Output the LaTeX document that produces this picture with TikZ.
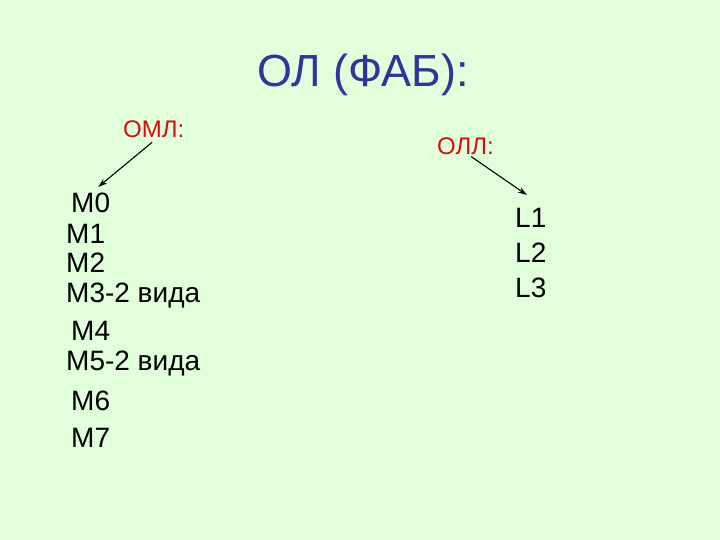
\documentclass[tikz,border=0pt]{standalone}
\usepackage{fontspec}
\setmainfont{Liberation Sans}
\usetikzlibrary{arrows.meta}
\definecolor{slidegreen}{RGB}{224,255,218}
\definecolor{titleblue}{RGB}{51,51,153}
\definecolor{headred}{RGB}{210,16,16}

\begin{document}
\begin{tikzpicture}[
  x = 1bp, y = -1bp,
  > = {Stealth[length=9bp, width=6bp]},
  item/.style = {anchor=base west, inner sep=0pt, font=\fontsize{28bp}{32bp}\selectfont},
  head/.style = {anchor=base west, inner sep=0pt, text=headred, font=\fontsize{24bp}{28bp}\selectfont},
  link arrow/.style = {->, line width=1.1pt}
]
  \fill[slidegreen] (0,0) rectangle (720,540);
  \useasboundingbox (0,0) rectangle (720,540);

  \node[anchor=base west, inner sep=0pt, text=titleblue, font=\fontsize{45bp}{50bp}\selectfont]
    (title) at (257,87) {ОЛ (ФАБ):};

  \node[head] (oml) at (123,138) {ОМЛ:};
  \node[head] (oll) at (437,155) {ОЛЛ:};

  \node[item] (m0) at (71,213) {M0};
  \node[item] (m1) at (66,244) {M1};
  \node[item] (m2) at (66,273) {M2};
  \node[item] (m3) at (66,302) {M3-2 вида};
  \node[item] (m4) at (71,340) {M4};
  \node[item] (m5) at (66,370) {M5-2 вида};
  \node[item] (m6) at (71,410) {M6};
  \node[item] (m7) at (71,447) {M7};

  \node[item] (l1) at (515,228) {L1};
  \node[item] (l2) at (515,263) {L2};
  \node[item] (l3) at (515,297) {L3};

  \draw[link arrow, shorten <=6bp, shorten >=10bp] ([xshift=3bp]oml.south) -- (m0.north);
  \draw[link arrow, shorten <=2bp, shorten >=24bp] ([xshift=4bp]oll.south) -- (l1.north east);
\end{tikzpicture}
\end{document}
